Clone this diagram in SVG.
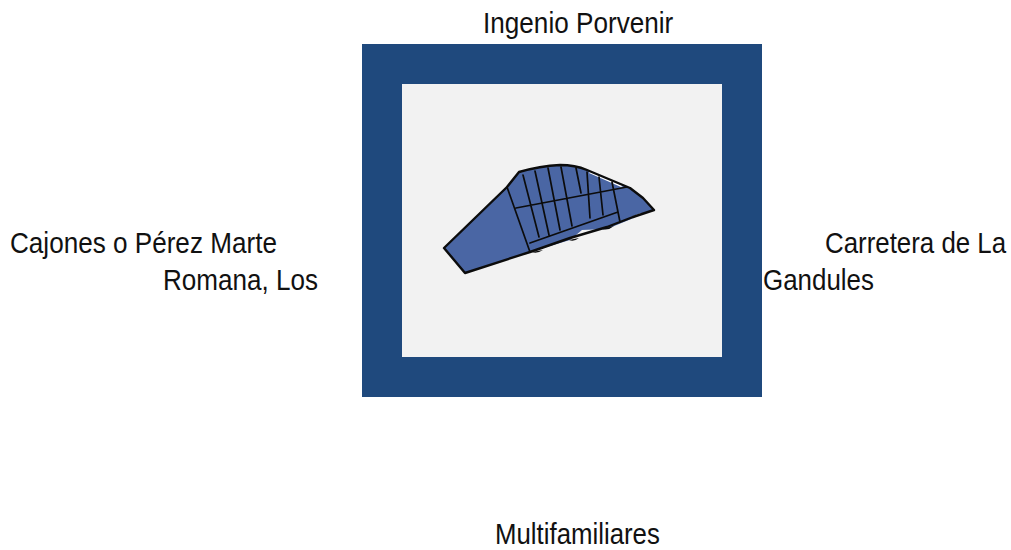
<svg xmlns="http://www.w3.org/2000/svg" width="1011" height="550" viewBox="0 0 1011 550">
<style>
text{font-family:"Liberation Sans",Arial,sans-serif;font-size:29.5px;fill:#111111}
.l{fill:none;stroke:#0c0c0c;stroke-width:1.7;stroke-linecap:round;stroke-linejoin:round}
.o{stroke-width:2.4}
</style>
<rect width="1011" height="550" fill="#ffffff"/>
<g id="frame"><rect x="362" y="44" width="400" height="353" fill="#1f497d"/><rect x="402" y="84" width="320" height="273" fill="#f2f2f2"/></g>
<g id="plot">
<path d="M444 248L507 187L519 172Q540 166 560 165Q575 165 587 170L630 188L643 198L653 210L607 229L582 230L570 240L530 252L465 273Z" fill="#4a66a4"/>
<path d="M590 171L623 186L621 187L589 173ZM633 216L641 213L643 215L635 218Z" fill="#ffffff"/>
<path class="l o" d="M444 248L507 187L519 172Q540 166 560 165Q575 165 587 170L630 188L643 198L654 210L633 217L607 227L570 238L530 252L465 273Z"/>
<path class="l" d="M507 187L530 252M530 243L618 212M516 208L627 187M523 175L539 237M535 171L549 235M548 168L560 230M561 167L572 226M576 168L581 193M587 172L590 218M599 177L603 215M612 182L620 222"/>
<path d="M532 252Q537 254 543 250ZM569 240Q574 242 579 238ZM602 229Q608 231 614 226Z" fill="#0c0c0c"/>
</g>
<g id="labels">
<text transform="translate(483 33) scale(.886 1)">Ingenio Porvenir</text>
<text transform="translate(10 253) scale(.885 1)">Cajones o Pérez Marte</text>
<text transform="translate(163 290) scale(.884 1)">Romana, Los</text>
<text transform="translate(825 253) scale(.877 1)">Carretera de La</text>
<text transform="translate(763 290) scale(.879 1)">Gandules</text>
<text transform="translate(495 543.6) scale(.875 1)">Multifamiliares</text>
</g>
</svg>
